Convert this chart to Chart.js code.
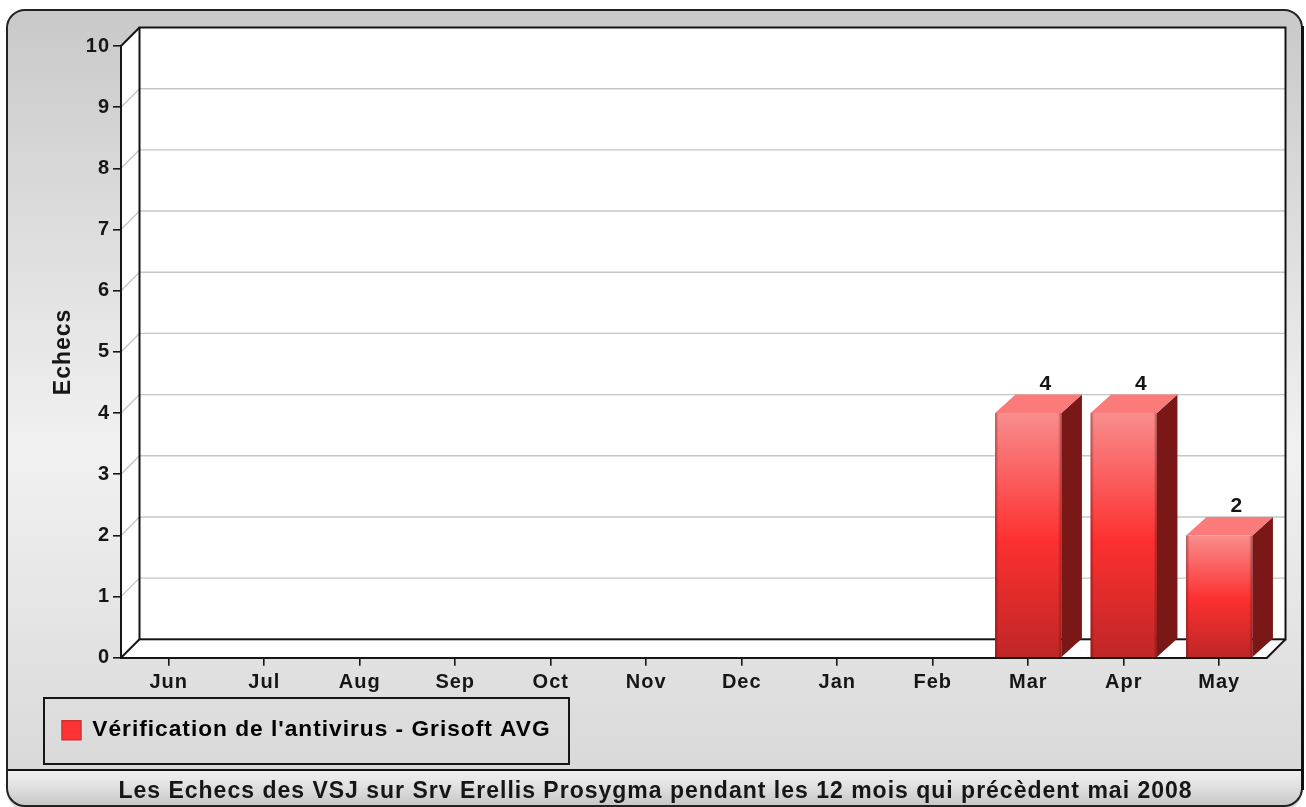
<!DOCTYPE html>
<html><head><meta charset="utf-8">
<style>html,body{margin:0;padding:0;background:#fff}#w{position:absolute;left:0;top:0;width:1306px;height:807px}canvas{display:block;filter:blur(.6px)}</style>
<script src="https://cdn.jsdelivr.net/npm/chart.js@4/dist/chart.umd.min.js"></script>
</head><body><div id="w"><canvas id="c" width="1306" height="807"></canvas></div>
<script>
const categories=['Jun','Jul','Aug','Sep','Oct','Nov','Dec','Jan','Feb','Mar','Apr','May'];
const failures=[0,0,0,0,0,0,0,0,0,4,4,2];
const seriesName="Vérification de l'antivirus - Grisoft AVG";
const yAxisTitle='Echecs';
const chartTitle='Les Echecs des VSJ sur Srv Erellis Prosygma pendant les 12 mois qui précèdent mai 2008';
const DEPTH=18.5, FONT='"Liberation Sans", Arial, sans-serif', INK='#161616', SPACING='1px';

function rr(ctx,x,y,w,h,rt,rb){ctx.beginPath();ctx.moveTo(x+rt,y);ctx.lineTo(x+w-rt,y);ctx.arcTo(x+w,y,x+w,y+rt,rt);ctx.lineTo(x+w,y+h-rb);ctx.arcTo(x+w,y+h,x+w-rb,y+h,rb);ctx.lineTo(x+rb,y+h);ctx.arcTo(x,y+h,x,y+h-rb,rb);ctx.lineTo(x,y+rt);ctx.arcTo(x,y,x+rt,y,rt);ctx.closePath();}
function seg(ctx,a,b,c,d){ctx.beginPath();ctx.moveTo(a,b);ctx.lineTo(c,d);ctx.stroke();}

const frame={id:'frame',
 beforeLayout(chart){chart.ctx.letterSpacing=SPACING;},
 beforeDraw(chart){
  const ctx=chart.ctx,{left:l,right:r,top:t,bottom:b}=chart.chartArea,y=chart.scales.y;
  ctx.letterSpacing=SPACING;
  ctx.save();
  ctx.fillStyle='#fff';ctx.fillRect(0,0,1306,807);
  const g=ctx.createLinearGradient(0,10,0,770);
  g.addColorStop(0,'#c9c9c9');g.addColorStop(.58,'#f1f1f1');g.addColorStop(1,'#d9d9d9');
  rr(ctx,7,10,1295,800,18,18);ctx.fillStyle=g;ctx.fill();
  ctx.save();rr(ctx,7,10,1295,796,18,18);ctx.clip();
  const h=ctx.createLinearGradient(0,771,0,807);
  h.addColorStop(0,'#f0f0f0');h.addColorStop(.4,'#e2e2e2');h.addColorStop(1,'#c4c4c4');
  ctx.fillStyle=h;ctx.fillRect(7,770,1295,37);ctx.restore();
  ctx.strokeStyle='#111';ctx.lineWidth=2;seg(ctx,7,770,1302,770);
  rr(ctx,7,10,1295,796,18,18);ctx.strokeStyle='#222';ctx.lineWidth=2;ctx.stroke();
  ctx.fillStyle='#111';ctx.fillRect(1301,26,3,764);
  ctx.fillStyle='#fff';ctx.beginPath();
  ctx.moveTo(l,t);ctx.lineTo(l+DEPTH,t-DEPTH);ctx.lineTo(r+DEPTH,t-DEPTH);ctx.lineTo(r+DEPTH,b-DEPTH);ctx.lineTo(r,b);ctx.lineTo(l,b);ctx.closePath();ctx.fill();
  ctx.strokeStyle='#c6c6c6';ctx.lineWidth=1.4;
  y.ticks.forEach(k=>{const p=y.getPixelForValue(k.value);
    if(k.value>0&&k.value<10){seg(ctx,l,p,l+DEPTH,p-DEPTH);seg(ctx,l+DEPTH,p-DEPTH,r+DEPTH,p-DEPTH);}});
  ctx.strokeStyle='#141414';ctx.lineWidth=2;
  ctx.strokeRect(l+DEPTH,t-DEPTH,r-l,b-t);
  seg(ctx,l,t,l+DEPTH,t-DEPTH);seg(ctx,l,b,l+DEPTH,b-DEPTH);seg(ctx,r,b,r+DEPTH,b-DEPTH);
  ctx.lineWidth=2;ctx.strokeStyle='#161616';ctx.strokeRect(44,698,525,66);
  ctx.restore();
 },
 afterDatasetsDraw(chart){
  const ctx=chart.ctx,meta=chart.getDatasetMeta(0);
  ctx.save();
  meta.data.forEach((el,i)=>{
   if(!failures[i])return;
   const hw=el.width/2,L=el.x-hw,R=el.x+hw,T=el.y,B=el.base;
   ctx.fillStyle='#7a1717';ctx.beginPath();ctx.moveTo(R,T);ctx.lineTo(R+DEPTH+2,T-DEPTH);ctx.lineTo(R+DEPTH+2,B-DEPTH);ctx.lineTo(R,B);ctx.closePath();ctx.fill();
   ctx.fillStyle='#fb7a7a';ctx.beginPath();ctx.moveTo(L,T);ctx.lineTo(L+DEPTH+2,T-DEPTH);ctx.lineTo(R+DEPTH+2,T-DEPTH);ctx.lineTo(R,T);ctx.closePath();ctx.fill();
   const s=ctx.createLinearGradient(L,0,R,0);
   s.addColorStop(0,'rgba(60,0,0,.4)');s.addColorStop(.05,'rgba(60,0,0,0)');s.addColorStop(.95,'rgba(60,0,0,0)');s.addColorStop(1,'rgba(60,0,0,.4)');
   ctx.fillStyle=s;ctx.fillRect(L,T,R-L,B-T);
   ctx.fillStyle=INK;ctx.font='bold 21px '+FONT;ctx.textAlign='center';ctx.textBaseline='alphabetic';
   ctx.fillText(String(failures[i]),el.x+DEPTH-1,T-DEPTH-5);
  });
  ctx.restore();
 }
};

new Chart(document.getElementById('c'),{
 type:'bar',
 data:{labels:categories,datasets:[{label:seriesName,data:failures,barPercentage:.695,categoryPercentage:1,
  backgroundColor(c){
   const ch=c.chart; if(!ch.chartArea||c.parsed===undefined||!c.parsed.y) return '#ff3333';
   const top=ch.scales.y.getPixelForValue(c.parsed.y),bot=ch.scales.y.getPixelForValue(0);
   const g=ch.ctx.createLinearGradient(0,top,0,bot);
   g.addColorStop(0,'#f98d8d');g.addColorStop(.52,'#fd3030');g.addColorStop(1,'#bf2626');return g;
  }}]},
 options:{responsive:false,animation:false,
  layout:{padding:{left:44,right:39,top:46,bottom:0}},
  plugins:{tooltip:{enabled:false},
   legend:{position:'bottom',align:'start',
    labels:{color:INK,font:{family:FONT,size:22.7,weight:'bold'},boxWidth:19,boxHeight:19,padding:18,
     generateLabels(){return [{text:seriesName,fillStyle:'#ff3333',strokeStyle:'#c33',lineWidth:1.5,datasetIndex:0,hidden:false}];}}},
   title:{display:true,position:'bottom',text:chartTitle,color:INK,font:{family:FONT,size:23,weight:'bold'},padding:{top:25.9,bottom:2}}},
  scales:{
   x:{offset:true,grid:{offset:false,drawOnChartArea:false,tickLength:8,color:'#161616',lineWidth:1.6},border:{color:'#161616',width:2},
      ticks:{color:INK,font:{family:FONT,size:20,weight:'bold'},padding:5,maxRotation:0,autoSkip:false},
      afterFit(s){s.height=43;}},
   y:{min:0,max:10,grid:{drawOnChartArea:false,tickLength:8,color:'#161616',lineWidth:1.6},border:{color:'#161616',width:2},
      ticks:{stepSize:1,color:INK,font:{family:FONT,size:20,weight:'bold'},padding:3},
      title:{display:true,text:yAxisTitle,color:INK,font:{family:FONT,size:23,weight:'bold'},padding:{top:6,bottom:0}},
      afterFit(s){s.width=77;}}
  }},
 plugins:[frame]
});
</script></body></html>
